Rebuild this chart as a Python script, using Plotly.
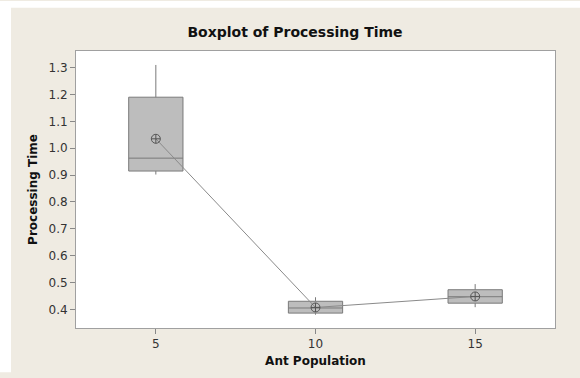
import plotly.graph_objects as go

categories = [5, 10, 15]
q1 = [0.915, 0.386, 0.423]
median = [0.963, 0.405, 0.447]
q3 = [1.19, 0.430, 0.473]
lower = [0.902, 0.380, 0.408]
upper = [1.31, 0.445, 0.494]
means = [1.035, 0.407, 0.448]
y_ticks = [0.4, 0.5, 0.6, 0.7, 0.8, 0.9, 1.0, 1.1, 1.2, 1.3]

fig = go.Figure()
for i, c in enumerate(categories):
    fig.add_trace(go.Box(
        x=[c], q1=[q1[i]], median=[median[i]], q3=[q3[i]],
        lowerfence=[lower[i]], upperfence=[upper[i]],
        width=1.7, whiskerwidth=0, fillcolor="#bdbdbd",
        line=dict(color="#7a7a7a", width=1),
        boxpoints=False, showlegend=False, hoverinfo="skip",
    ))

fig.add_trace(go.Scatter(
    x=categories, y=means, mode="lines+markers",
    line=dict(color="#8a8a8a", width=1),
    marker=dict(symbol="circle-cross-open", size=9, color="#555555", line=dict(width=1)),
    showlegend=False,
))

font = "DejaVu Sans"
fig.update_layout(
    width=580, height=378,
    margin=dict(l=76, r=25, t=51, b=45),
    paper_bgcolor="#efebe2",
    plot_bgcolor="white",
    title=dict(text="<b>Boxplot of Processing Time</b>", x=(295) / 580, xanchor="center",
               y=1 - 32 / 378, yanchor="middle",
               font=dict(family=font, size=14, color="#111111")),
    font=dict(family=font, size=12, color="#333333"),
    shapes=[
        dict(type="rect", xref="paper", yref="paper", x0=-76 / 479, x1=(580 - 76) / 479,
             y0=(333 - 7) / 282, y1=333 / 282, fillcolor="white", line_width=0, layer="above"),
        dict(type="rect", xref="paper", yref="paper", x0=-76 / 479, x1=(11 - 76) / 479,
             y0=-45 / 282, y1=333 / 282, fillcolor="white", line_width=0, layer="above"),
    ],
)
fig.update_xaxes(
    range=[2.5, 17.5], tickvals=categories, ticktext=[str(c) for c in categories],
    showgrid=False, zeroline=False, showline=True, mirror=True, linecolor="#a0a0a0", linewidth=1,
    ticks="outside", ticklen=5, tickcolor="#888888",
    title=dict(text="<b>Ant Population</b>", font=dict(family=font, size=12, color="#111111"), standoff=6),
)
fig.update_yaxes(
    range=[0.3305, 1.362], tickvals=y_ticks, tickformat=".1f",
    showgrid=False, zeroline=False, showline=True, mirror=True, linecolor="#a0a0a0", linewidth=1,
    ticks="outside", ticklen=5, tickcolor="#888888",
    title=dict(text="<b>Processing Time</b>", font=dict(family=font, size=12, color="#111111"), standoff=8),
)

fig.write_html("out.html")
